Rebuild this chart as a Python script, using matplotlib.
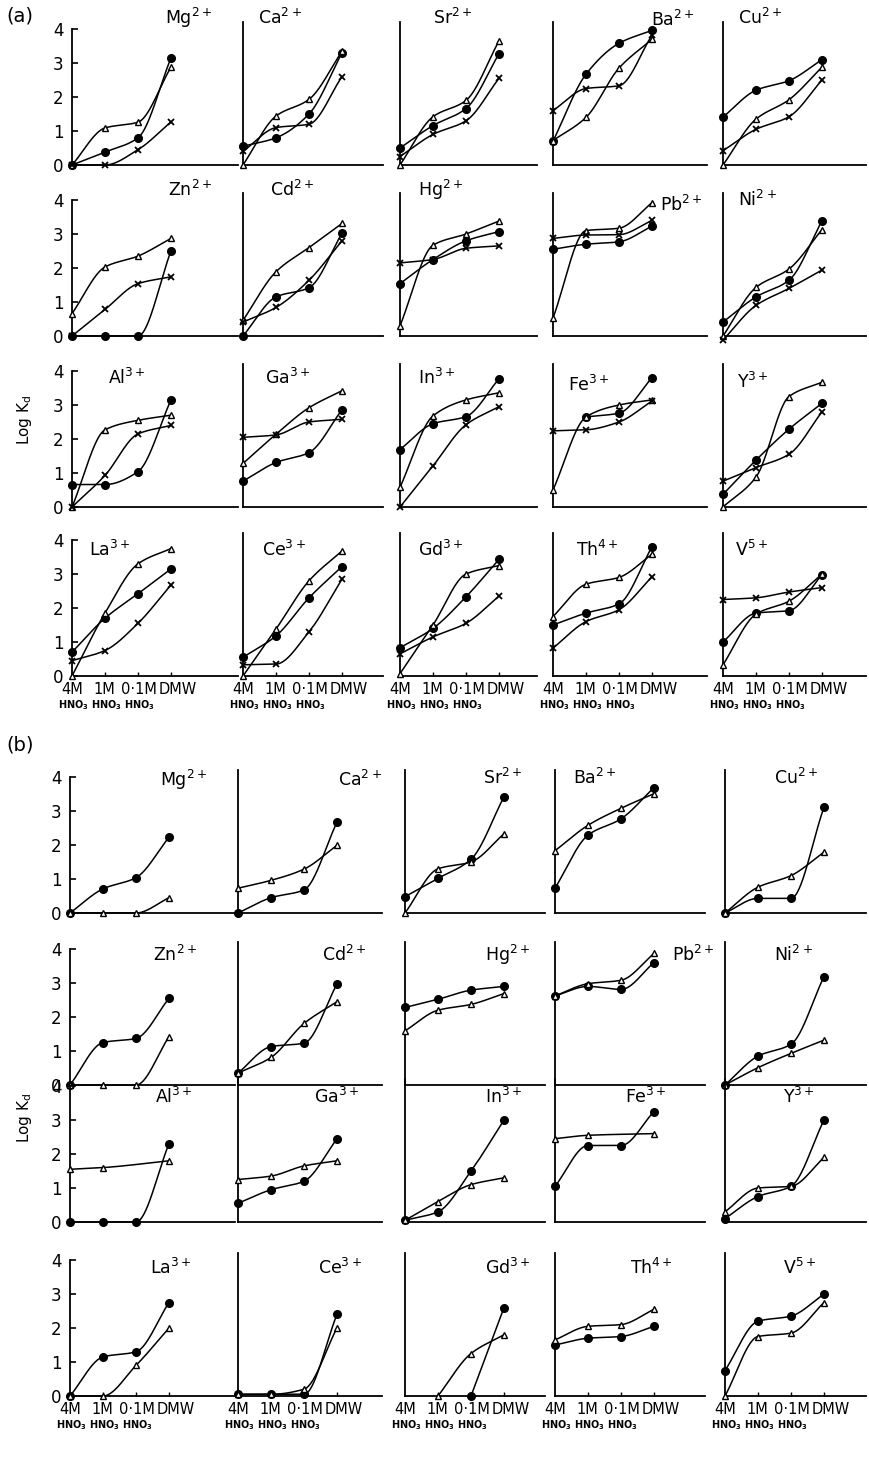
import numpy as np
import matplotlib
matplotlib.use("Agg")
import matplotlib.pyplot as plt

# ------------ DATA -------------
ION_NAMES = ["Mg$^{2+}$", "Ca$^{2+}$", "Sr$^{2+}$", "Ba$^{2+}$", "Cu$^{2+}$",
             "Zn$^{2+}$", "Cd$^{2+}$", "Hg$^{2+}$", "Pb$^{2+}$", "Ni$^{2+}$",
             "Al$^{3+}$", "Ga$^{3+}$", "In$^{3+}$", "Fe$^{3+}$", "Y$^{3+}$",
             "La$^{3+}$", "Ce$^{3+}$", "Gd$^{3+}$", "Th$^{4+}$", "V$^{5+}$"]
MEDIA = ["4M", "1M", "0·1M", "DMW"]
nan = np.nan

# panel (a): log Kd for three series, one row of four media per ion
A_CIRCLE = [
    [0, 0.38, 0.8, 3.15], [0.55, 0.8, 1.5, 3.3], [0.5, 1.16, 1.66, 3.27],
    [0.7, 2.67, 3.58, 3.96], [1.41, 2.2, 2.48, 3.1],
    [0, 0, 0, 2.5], [0, 1.15, 1.42, 3.02], [1.54, 2.25, 2.8, 3.07],
    [2.55, 2.7, 2.77, 3.23], [0.41, 1.15, 1.64, 3.39],
    [0.66, 0.66, 1.04, 3.15], [0.76, 1.31, 1.6, 2.86], [1.69, 2.45, 2.66, 3.77],
    [nan, 2.65, 2.76, 3.8], [0.37, 1.38, 2.29, 3.05],
    [0.7, 1.7, 2.42, 3.15], [0.55, 1.18, 2.3, 3.22], [0.83, 1.4, 2.33, 3.43],
    [1.5, 1.85, 2.12, 3.8], [1.0, 1.85, 1.92, 2.98],
]
A_TRIANGLE = [
    [0, 1.09, 1.26, 2.88], [0, 1.44, 1.93, 3.34], [0, 1.42, 1.9, 3.65],
    [0.72, 1.4, 2.85, 3.7], [0, 1.35, 1.92, 2.88],
    [0.66, 2.03, 2.35, 2.87], [0.46, 1.89, 2.6, 3.31], [0.3, 2.67, 3.0, 3.38],
    [0.53, 3.1, 3.17, 3.92], [0, 1.43, 1.97, 3.13],
    [0, 2.27, 2.55, 2.7], [1.28, 2.14, 2.92, 3.42], [0.58, 2.68, 3.15, 3.36],
    [0.5, 2.65, 3.0, 3.15], [0, 0.88, 3.25, 3.67],
    [0, 1.85, 3.3, 3.75], [0, 1.38, 2.8, 3.68], [0.07, 1.5, 3.0, 3.25],
    [1.75, 2.7, 2.9, 3.58], [0.33, 1.82, 2.2, 3.0],
]
A_CROSS = [
    [0, 0, 0.45, 1.27], [0.4, 1.1, 1.2, 2.6], [0.25, 0.9, 1.3, 2.55],
    [1.6, 2.25, 2.33, 3.82], [0.42, 1.05, 1.42, 2.5],
    [0, 0.78, 1.54, 1.74], [0.41, 0.84, 1.64, 2.8], [2.15, 2.25, 2.58, 2.65],
    [2.87, 2.97, 2.98, 3.4], [-0.12, 0.9, 1.4, 1.94],
    [0, 0.93, 2.15, 2.4], [2.05, 2.12, 2.5, 2.58], [0, 1.21, 2.42, 2.95],
    [2.24, 2.27, 2.5, 3.12], [0.76, 1.16, 1.55, 2.8],
    [0.45, 0.75, 1.55, 2.68], [0.33, 0.35, 1.3, 2.85], [0.65, 1.15, 1.55, 2.35],
    [0.82, 1.6, 1.95, 2.92], [2.25, 2.3, 2.47, 2.6],
]

# panel (b): two series
B_CIRCLE = [
    [0, 0.71, 1.04, 2.23], [0, 0.45, 0.68, 2.67], [0.48, 1.02, 1.58, 3.42],
    [0.73, 2.29, 2.77, 3.69], [0, 0.43, 0.43, 3.11],
    [0, 1.25, 1.37, 2.55], [0.35, 1.13, 1.23, 2.97], [2.28, 2.52, 2.79, 2.9],
    [2.62, 2.9, 2.81, 3.6], [0, 0.85, 1.2, 3.19],
    [0, 0, 0, 2.3], [0.55, 0.95, 1.2, 2.45], [0.05, 0.3, 1.5, 3.0],
    [1.05, 2.25, 2.25, 3.25], [0.1, 0.75, 1.05, 3.0],
    [0, 1.15, 1.3, 2.75], [0.05, 0.05, 0.05, 2.4], [nan, nan, 0, 2.6],
    [1.5, 1.7, 1.75, 2.05], [0.75, 2.2, 2.35, 3.0],
]
B_TRIANGLE = [
    [0, 0, 0, 0.45], [0.73, 0.96, 1.29, 1.99], [0, 1.3, 1.5, 2.33],
    [1.83, 2.58, 3.08, 3.51], [0, 0.76, 1.1, 1.79],
    [0, 0, 0, 1.42], [0.35, 0.81, 1.81, 2.45], [1.59, 2.2, 2.37, 2.69],
    [2.62, 2.98, 3.08, 3.87], [0, 0.51, 0.93, 1.32],
    [1.55, 1.6, nan, 1.8], [1.25, 1.35, 1.65, 1.8], [0.05, 0.6, 1.1, 1.3],
    [2.45, 2.55, nan, 2.6], [0.3, 1.0, 1.05, 1.9],
    [0, 0, 0.9, 2.0], [0.05, 0.05, 0.2, 2.0], [nan, 0, 1.25, 1.8],
    [1.65, 2.05, 2.1, 2.55], [0, 1.75, 1.85, 2.75],
]
# -------------------------------

W, H = 869, 1469
UNIT_X = 33.0     # px between media
UNIT_Y = 34.0     # px per log unit
YTOP = 4.2

# layout in pixels: y-axis position and right end of each column, baseline of each row
A_COLS = [(72, 238), (243, 383), (400, 537), (553, 707), (723, 866)]
A_ROWS = [165, 336, 507, 676]
B_COLS = [(70, 235), (238, 382), (405, 545), (555, 705), (725, 866)]
B_ROWS = [913, 1085, 1222, 1396]

# where the medium names sit along x (the last one is nudged right)
MEDIA_POS = [0, 0.97, 2.02, 3.2]

# ion label positions (left edge px, centre px) for each panel
A_LABELS = [(165, 18), (258, 18), (433, 18), (651, 20), (738, 18),
            (168, 190), (270, 190), (418, 190), (660, 205), (738, 200),
            (108, 378), (265, 378), (418, 378), (568, 385), (737, 382),
            (89, 550), (262, 550), (418, 550), (576, 550), (735, 550)]
B_LABELS = [(160, 780), (338, 780), (483, 778), (573, 778), (774, 778),
            (153, 955), (322, 955), (485, 955), (672, 955), (774, 955),
            (155, 1097), (314, 1097), (485, 1097), (625, 1097), (783, 1097),
            (150, 1268), (318, 1268), (485, 1268), (630, 1268), (783, 1268)]


def pchip_curve(x, y, n=80):
    """Monotone cubic through the points (Fritsch-Carlson), skipping gaps."""
    x = np.asarray(x, float)
    y = np.asarray(y, float)
    ok = ~np.isnan(y)
    x, y = x[ok], y[ok]
    if len(x) < 3:
        return x, y
    h = np.diff(x)
    d = np.diff(y) / h
    m = np.zeros_like(y)
    m[0], m[-1] = d[0], d[-1]
    for k in range(1, len(x) - 1):
        if d[k - 1] * d[k] <= 0:
            m[k] = 0.0
        else:
            w1 = 2 * h[k] + h[k - 1]
            w2 = h[k] + 2 * h[k - 1]
            m[k] = (w1 + w2) / (w1 / d[k - 1] + w2 / d[k])
    xs, ys = [], []
    for k in range(len(x) - 1):
        t = np.linspace(0, 1, n)
        h00 = 2 * t**3 - 3 * t**2 + 1
        h10 = t**3 - 2 * t**2 + t
        h01 = -2 * t**3 + 3 * t**2
        h11 = t**3 - t**2
        xs.append(x[k] + t * h[k])
        ys.append(h00 * y[k] + h10 * h[k] * m[k] + h01 * y[k + 1] + h11 * h[k] * m[k + 1])
    return np.concatenate(xs), np.concatenate(ys)


MARKERS = {
    "circle": dict(marker="o", ms=5.5, mfc="black", mec="black"),
    "triangle": dict(marker="^", ms=4.5, mfc="white", mec="black", mew=1.0),
    "cross": dict(marker="x", ms=5, mec="black", mew=1.3),
}


def draw_series(ax, values, kind):
    x = np.arange(len(values))
    cx, cy = pchip_curve(x, values)
    ax.plot(cx, cy, color="black", lw=1.1, clip_on=False, zorder=2)
    ax.plot(x, values, ls="none", clip_on=False, zorder=3, **MARKERS[kind])


def make_axes(fig, col, row_base):
    left, right = col
    x0 = left / W
    y0 = 1 - row_base / H
    w = (right - left) / W
    h = YTOP * UNIT_Y / H
    ax = fig.add_axes([x0, y0, w, h])
    ax.set_xlim(0, (right - left) / UNIT_X)
    ax.set_ylim(0, YTOP)
    for s in ("top", "right"):
        ax.spines[s].set_visible(False)
    for s in ("left", "bottom"):
        ax.spines[s].set_linewidth(1.3)
    ax.patch.set_alpha(0)
    return ax


def label_media(ax):
    ax.set_xticks([1, 2, 3])
    ax.set_xticklabels([])
    ax.tick_params(axis="x", direction="in", length=3, width=1.0)
    for k, name in enumerate(MEDIA):
        ax.annotate(name, xy=(MEDIA_POS[k], 0), xycoords=("data", "axes fraction"),
                    xytext=(0, -10), textcoords="offset points",
                    ha="center", va="center", fontsize=10.5)
    for k in range(3):
        ax.annotate("HNO$_\\mathbf{3}$", xy=(k + 0.05, 0),
                    xycoords=("data", "axes fraction"),
                    xytext=(0, -21), textcoords="offset points",
                    ha="center", va="center", fontsize=7, fontweight="bold")


def draw_panel(fig, cols, rows, labels, series, tag, tag_y, logkd_y):
    for i, name in enumerate(ION_NAMES):
        r, c = divmod(i, 5)
        ax = make_axes(fig, cols[c], rows[r])
        for kind, data in series:
            draw_series(ax, data[i], kind)

        if c == 0:
            ax.spines["left"].set_bounds(0, 4)
            ax.set_yticks([0, 1, 2, 3, 4])
            ax.tick_params(axis="y", direction="in", length=4, width=1.2,
                           labelsize=12, pad=6)
        else:
            ax.set_yticks([])

        if r == 3:
            label_media(ax)
        else:
            ax.set_xticks([])

        lx, ly = labels[i]
        fig.text(lx / W, 1 - ly / H, name, fontsize=12.5, ha="left", va="center")

    fig.text(24 / W, 1 - logkd_y / H, "Log K$_\\mathrm{d}$", rotation=90,
             fontsize=11, ha="center", va="center")
    fig.text(6 / W, 1 - tag_y / H, tag, fontsize=14, ha="left", va="center")


def main():
    plt.rcParams["font.family"] = ["DejaVu Sans"]
    plt.rcParams["mathtext.default"] = "regular"
    fig = plt.figure(figsize=(W / 100, H / 100), dpi=100)

    draw_panel(fig, A_COLS, A_ROWS, A_LABELS,
               [("circle", A_CIRCLE), ("triangle", A_TRIANGLE), ("cross", A_CROSS)],
               "(a)", 16, 420)
    draw_panel(fig, B_COLS, B_ROWS, B_LABELS,
               [("circle", B_CIRCLE), ("triangle", B_TRIANGLE)],
               "(b)", 745, 1118)

    fig.savefig("out.png", dpi=100)
    plt.close(fig)


if __name__ == "__main__":
    main()
